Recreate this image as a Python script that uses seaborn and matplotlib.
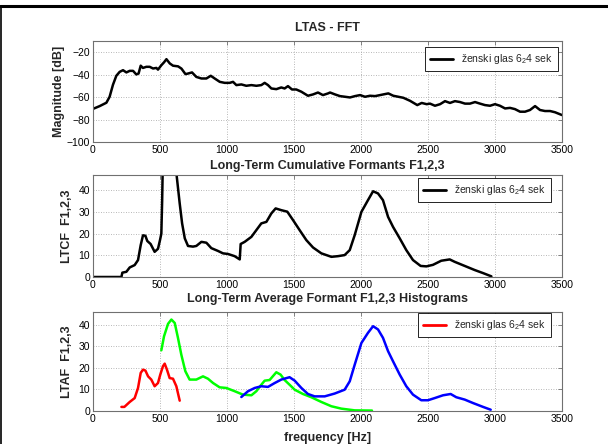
import matplotlib
matplotlib.use("Agg")
import matplotlib.pyplot as plt
from matplotlib.lines import Line2D
import seaborn as sns

# LTAS spectrum (dB)
ltas_freq = [0, 50, 100, 124, 149, 174, 199, 224, 249, 274, 299, 323, 340, 356, 373,
             398, 423, 448, 473, 485, 510, 530, 548, 573, 597, 635, 660, 690, 709,
             739, 771, 809, 846, 879, 908, 946, 983, 1020, 1045, 1070, 1107, 1144,
             1182, 1219, 1256, 1281, 1306, 1331, 1368, 1405, 1430, 1455, 1485, 1517,
             1555, 1604, 1642, 1679, 1716, 1754, 1769, 1806, 1843, 1881, 1918, 1955,
             1993, 2030, 2067, 2105, 2142, 2179, 2204, 2241, 2279, 2316, 2366, 2420,
             2453, 2490, 2515, 2552, 2590, 2627, 2664, 2701, 2739, 2776, 2813, 2851,
             2888, 2925, 2963, 3000, 3037, 3075, 3112, 3149, 3187, 3224, 3261, 3299,
             3336, 3373, 3411, 3448, 3500]
ltas_db = [-70.5, -68, -65, -59.7, -49, -41, -37.5, -36, -38, -36.6, -36.6, -39.8, -39,
           -32, -34, -33, -33, -34.5, -34, -35.5, -31.6, -29, -26.2, -30, -32, -32.6,
           -34.6, -39.5, -39, -38, -42, -43.4, -43.4, -41, -43.4, -46.4, -47.3, -47.3,
           -46.4, -49.3, -48.7, -49.9, -49.3, -49.9, -49.3, -47.3, -49.3, -52.3, -52.9,
           -51.4, -52.3, -50.2, -53.2, -53.2, -55.2, -58.8, -57.6, -55.9, -58.2, -56.7,
           -55.9, -57.6, -59.1, -59.7, -60.3, -59.1, -58.2, -59.7, -58.8, -59.1, -58.2,
           -57.3, -56.7, -58.8, -59.7, -60.6, -63.3, -67.1, -65.2, -66.3, -65.8, -67.7,
           -66.3, -63.6, -65.2, -63.6, -64.4, -65.8, -65.8, -64.4, -65.8, -67.1, -67.7,
           -66.3, -67.7, -70.1, -69.6, -70.7, -73.0, -73.0, -71.5, -68.0, -71.5, -72.4,
           -72.4, -73.5, -76.0]

# Long-term cumulative formants
ltcf_freq = [0, 212, 219, 249, 274, 311, 336, 356, 373, 391, 405, 430, 460, 485, 500,
             510, 516, 522, 545, 580, 605, 622, 647, 665, 685, 709, 746, 771, 809, 846,
             883, 933, 970, 1008, 1057, 1095, 1102, 1132, 1182, 1219, 1256, 1294, 1331,
             1363, 1405, 1450, 1493, 1542, 1592, 1642, 1704, 1779, 1828, 1878, 1916,
             1953, 2003, 2052, 2090, 2127, 2164, 2202, 2239, 2289, 2338, 2388, 2445,
             2488, 2537, 2599, 2662, 2699, 2774, 2849, 2911, 2973]
ltcf_val = [0, 0, 2, 2.4, 4.4, 5.5, 7.8, 14.7, 19.2, 19, 16.6, 15.2, 11.6, 13, 17,
            20, 35, 56, 61, 64, 58, 48, 33.9, 24.7, 17.8, 14.3, 14, 14.3, 16.2, 15.8,
            13.3, 12, 10.9, 10.6, 9.6, 8.1, 15.2, 16.2, 18.5, 21.6, 24.7, 25.4, 29.3,
            31.6, 30.8, 30.1, 26.2, 21.6, 17, 13.6, 10.9, 9.3, 9.6, 10.1, 12.4, 19.3,
            30, 35.4, 39.5, 38.5, 35.4, 27.7, 23.1, 17.8, 12.4, 7.8, 5.1, 4.9, 5.6,
            7.5, 8.1, 7, 5.1, 3.2, 1.8, 0.3]

# Long-term average formant histograms
f1_freq = [212, 234, 274, 311, 336, 356, 373, 391, 411, 435, 460, 485, 502, 522, 535,
           552, 572, 597, 622, 647]
f1_val = [1.9, 1.9, 4.2, 6, 10.7, 17.7, 19.2, 18.8, 16.1, 14.6, 11.5, 13, 16.9, 20.8,
          22, 19.2, 15.3, 15, 11.5, 4.8]
f2_freq = [510, 530, 560, 585, 610, 634, 659, 689, 721, 771, 821, 858, 896, 945, 995,
           1057, 1119, 1182, 1219, 1256, 1281, 1318, 1368, 1400, 1430, 1467, 1505, 1567,
           1629, 1704, 1779, 1853, 1953, 2082]
f2_val = [28.2, 34.7, 40.5, 42.5, 40.9, 34, 26.2, 18.5, 14.6, 14.6, 16.1, 15, 13, 11,
          10.7, 9.2, 7.6, 7.3, 9.2, 12.2, 14.1, 14.4, 18, 16.9, 14.4, 12.2, 9.9, 7.9,
          6.4, 4.2, 2.2, 1.1, 0.3, 0.2]
f3_freq = [1107, 1157, 1207, 1256, 1306, 1356, 1405, 1467, 1505, 1555, 1604, 1654, 1729,
           1803, 1878, 1916, 1953, 2003, 2052, 2090, 2127, 2164, 2202, 2239, 2289, 2338,
           2388, 2450, 2500, 2550, 2612, 2669, 2711, 2774, 2836, 2911, 2968]
f3_val = [6.5, 9.2, 10.7, 11.5, 11.2, 13, 14.6, 15.7, 14.1, 10.7, 7.9, 6.8, 6.8, 8.1,
          9.9, 13.8, 21.5, 31.6, 36.3, 39.4, 37.9, 34, 27.8, 23.1, 16.9, 11.5, 7.6, 5,
          5, 6, 7.3, 7.9, 6.4, 5.3, 3.7, 1.9, 0.6]

freq_ticks = [0, 500, 1000, 1500, 2000, 2500, 3000, 3500]
db_ticks = [-100, -80, -60, -40, -20]
count_ticks = [0, 10, 20, 30, 40]
titles = ["LTAS - FFT", "Long-Term Cumulative Formants F1,2,3",
          "Long-Term Average Formant F1,2,3 Histograms"]
ylabels = ["Magnitude [dB]", "LTCF  F1,2,3", "LTAF  F1,2,3"]
xlabel = "frequency [Hz]"
legend_label = "ženski glas 6$_2$4 sek"

sns.set_style("white")
plt.rcParams["font.family"] = ["Liberation Sans", "DejaVu Sans"]
plt.rcParams["mathtext.fontset"] = "custom"
plt.rcParams["mathtext.rm"] = "Liberation Sans"
plt.rcParams["mathtext.it"] = "Liberation Sans"
plt.rcParams["mathtext.bf"] = "Liberation Sans:bold"

fig = plt.figure(figsize=(6.08, 4.44), dpi=100)
fig.patch.set_facecolor("white")

W, H = 608, 444
left_px, right_px = 93, 562
boxes = [(41, 142), (175, 277), (312, 411)]
axes = []
for top, bot in boxes:
    ax = fig.add_axes([left_px / W, 1 - bot / H, (right_px - left_px) / W, (bot - top) / H])
    axes.append(ax)

lw = 1.8
sns.lineplot(x=ltas_freq, y=ltas_db, ax=axes[0], color="black", linewidth=lw,
             estimator=None, sort=False, label=legend_label)
sns.lineplot(x=ltcf_freq, y=ltcf_val, ax=axes[1], color="black", linewidth=lw,
             estimator=None, sort=False, label=legend_label)
sns.lineplot(x=f1_freq, y=f1_val, ax=axes[2], color="#ff0000", linewidth=lw,
             estimator=None, sort=False, label=legend_label)
sns.lineplot(x=f2_freq, y=f2_val, ax=axes[2], color="#00ff00", linewidth=lw,
             estimator=None, sort=False)
sns.lineplot(x=f3_freq, y=f3_val, ax=axes[2], color="#0000ff", linewidth=lw,
             estimator=None, sort=False)

ylims = [(-100, -10), (0, 47), (0, 46)]
yticks = [db_ticks, count_ticks, count_ticks]
title_pads = [7, 4, 7]
ylabel_pads = [1, 4, 4]
legend_anchor = [(0.9915, 0.94), (0.9765, 0.97), (0.9765, 0.99)]

for i, ax in enumerate(axes):
    ax.set_xlim(0, 3500)
    ax.set_ylim(*ylims[i])
    ax.set_xticks(freq_ticks)
    ax.set_yticks(yticks[i])
    ax.grid(True, color="#a0a0a0", linestyle=(0, (1, 2)), linewidth=0.6)
    for sp in ax.spines.values():
        sp.set_color("#707070")
        sp.set_linewidth(0.8)
    ax.tick_params(direction="in", length=3, width=0.6, colors="#707070",
                   labelcolor="black", labelsize=7.5, top=True, right=True, pad=2)
    ax.set_title(titles[i], fontsize=9, fontweight="bold", pad=title_pads[i])
    ax.set_ylabel(ylabels[i], fontsize=9, fontweight="bold", labelpad=ylabel_pads[i])
    ax.set_xlabel("")
    leg = ax.legend(loc="upper right", bbox_to_anchor=legend_anchor[i],
                    borderaxespad=0, fontsize=7.5, frameon=True, fancybox=False,
                    framealpha=1, edgecolor="black", handlelength=2.2,
                    borderpad=0.5, handletextpad=0.8)
    leg.get_frame().set_linewidth(0.6)
    for h in leg.get_lines():
        h.set_linewidth(2)

axes[2].set_xlabel(xlabel, fontsize=9, fontweight="bold", labelpad=6)

# Window frame lines along the top and left edges
fig.add_artist(Line2D([0, 1], [1 - 6 / H, 1 - 6 / H], transform=fig.transFigure,
                      color="black", linewidth=2.2))
fig.add_artist(Line2D([0.5 / W, 0.5 / W], [0, 1 - 6 / H], transform=fig.transFigure,
                      color="black", linewidth=1.2))

fig.savefig("out.png", dpi=100, facecolor="white")
